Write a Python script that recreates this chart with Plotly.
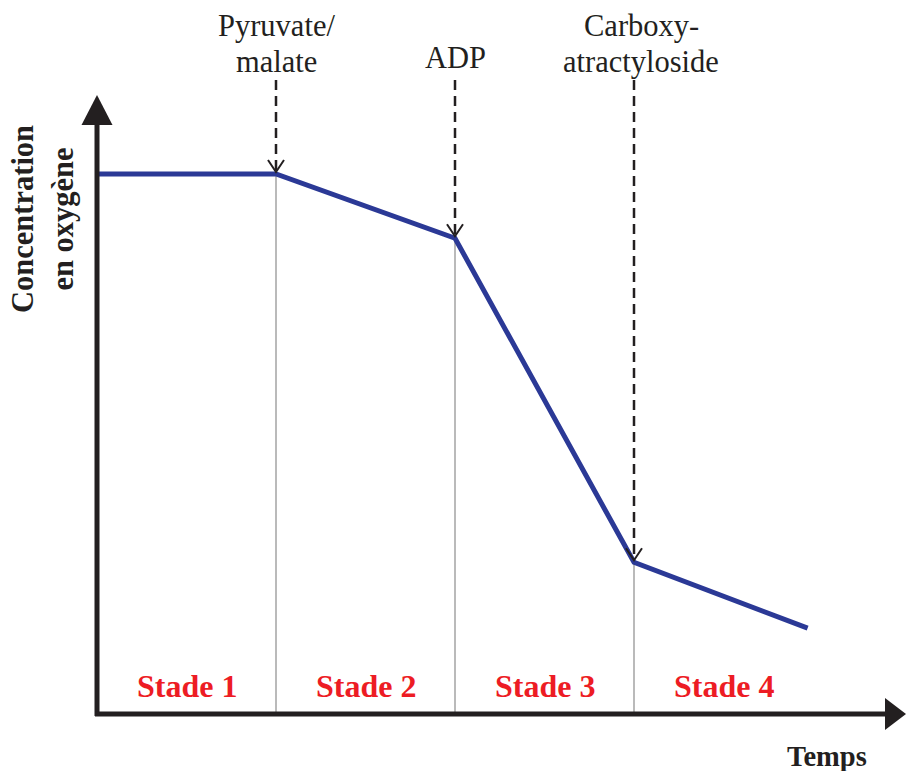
import plotly.graph_objects as go

# ---- data ----
time = [0, 1, 2, 3, 3.97]
oxygen = [100, 100, 88.1, 28.1, 15.9]
event_times = [1, 2, 3]
event_oxygen = [100, 88.1, 28.1]
event_labels = [["Pyruvate/", "malate"], ["ADP"], ["Carboxy-", "atractyloside"]]
event_xshift = [0, 0, 7]
stage_labels = ["Stade 1", "Stade 2", "Stade 3", "Stade 4"]
stage_centers = [0.5, 1.5, 2.5, 3.5]

# ---- geometry (data-space mapping of the canvas) ----
W, H = 906, 771
X0PX, Y0PX = 97, 714
PX_X, PX_Y = 179.0, 5.4
xr = [-X0PX / PX_X, (W - X0PX) / PX_X]
yr = [(Y0PX - H) / PX_Y, Y0PX / PX_Y]

def dx(px):
    return px / PX_X

def dy(px):
    return px / PX_Y

def ypx(p):
    return (Y0PX - p) / PX_Y

AX = "#231f20"
SERIF = "Liberation Serif, Times New Roman, serif"

fig = go.Figure()

# gray vertical separators
vx, vy = [], []
for t, o in zip(event_times, event_oxygen):
    vx += [t, t, None]
    vy += [o, 0, None]
fig.add_trace(go.Scatter(x=vx, y=vy, mode="lines",
                         line=dict(color="#8c8c8c", width=1.2),
                         hoverinfo="skip", showlegend=False))

# main curve
fig.add_trace(go.Scatter(x=time, y=oxygen, mode="lines",
                         line=dict(color="#2b3996", width=5),
                         hoverinfo="skip", showlegend=False))

# dashed event arrows
top_y = ypx(80)
for t, o in zip(event_times, event_oxygen):
    tip = o + dy(2)
    fig.add_trace(go.Scatter(x=[t, t], y=[top_y, tip + dy(2)], mode="lines",
                             line=dict(color=AX, width=2.5, dash="10px,6px"),
                             hoverinfo="skip", showlegend=False))
    fig.add_trace(go.Scatter(x=[t - dx(8), t, t + dx(8)],
                             y=[tip + dy(12), tip, tip + dy(12)], mode="lines",
                             line=dict(color=AX, width=2),
                             hoverinfo="skip", showlegend=False))

# axes as shapes
shapes = [
    dict(type="line", x0=0, x1=0, y0=-dy(2), y1=ypx(122),
         line=dict(color=AX, width=5)),
    dict(type="line", x0=-dx(2), x1=dx(886 - X0PX), y0=0, y1=0,
         line=dict(color=AX, width=5)),
    dict(type="path",
         path=f"M {-dx(15.5)} {ypx(125)} L 0 {ypx(95)} L {dx(15.5)} {ypx(125)} Z",
         fillcolor=AX, line=dict(color=AX, width=0)),
    dict(type="path",
         path=f"M {dx(885-X0PX)} {dy(16)} L {dx(906-X0PX)} 0 L {dx(885-X0PX)} {-dy(16)} Z",
         fillcolor=AX, line=dict(color=AX, width=0)),
]

annotations = []
LAB = 30.5
for t, lines, xs in zip(event_times, event_labels, event_xshift):
    n = len(lines)
    for i, ln in enumerate(lines):
        base = (72 if n == 2 else 68) - (n - 1 - i) * 36
        annotations.append(dict(x=t, y=ypx(base + 0.3 * LAB), text=ln, showarrow=False,
                                xanchor="center", yanchor="bottom", xshift=xs,
                                font=dict(family=SERIF, size=LAB, color=AX)))
for c, lab in zip(stage_centers, stage_labels):
    annotations.append(dict(x=c, y=ypx(686), text=f"<b>{lab}</b>",
                            showarrow=False, xanchor="center", yanchor="middle",
                            font=dict(family=SERIF, size=32, color="#ed1c24")))
annotations.append(dict(x=dx(827 - X0PX), xref="x", y=0, yref="paper",
                        text="<b>Temps</b>", yshift=-3,
                        showarrow=False, xanchor="center", yanchor="bottom",
                        font=dict(family=SERIF, size=28.5, color=AX)))
annotations.append(dict(x=dx(43 - X0PX), y=ypx(219),
                        text="<b>Concentration<br>en oxygène</b>",
                        showarrow=False, textangle=-90, xanchor="center", yanchor="middle",
                        font=dict(family=SERIF, size=30.5, color=AX)))

fig.update_layout(
    width=W, height=H,
    margin=dict(l=0, r=0, t=0, b=0),
    paper_bgcolor="white", plot_bgcolor="white",
    xaxis=dict(range=xr, visible=False, fixedrange=True),
    yaxis=dict(range=yr, visible=False, fixedrange=True),
    shapes=shapes, annotations=annotations, showlegend=False,
)

fig.write_html("out.html", config={"displayModeBar": False},
               post_script="document.body.style.margin='0';")
